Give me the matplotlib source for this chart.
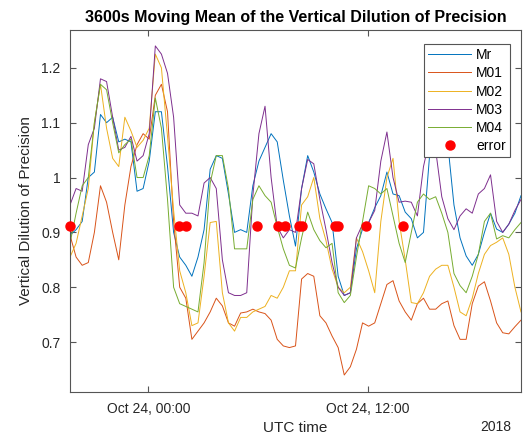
import matplotlib
matplotlib.use("Agg")
import matplotlib.pyplot as plt
import matplotlib.dates as mdates
from matplotlib.ticker import FormatStrFormatter
import pandas as pd

plt.rcParams['font.family'] = ['Liberation Sans', 'DejaVu Sans']

# moving means, one sample every 20 minutes from 2018-10-23 19:43 UTC
t_start = "2018-10-23 19:43"
t_step = "20min"

mr = [0.895, 0.905, 0.92, 1.0, 1.01, 1.115, 1.1, 1.11, 1.065, 1.07, 1.065, 0.975, 0.98, 1.03, 1.12, 1.12, 1.02, 0.9, 0.855,
      0.84, 0.82, 0.855, 0.905, 1.015, 1.04, 1.035, 0.97, 0.9, 0.905, 0.9, 0.985, 1.03, 1.055, 1.08, 1.065, 0.995, 0.93, 0.875,
      0.98, 1.04, 1.01, 0.97, 0.943, 0.918, 0.82, 0.785, 0.79, 0.87, 0.906, 0.918, 0.945, 0.967, 1.01, 0.97, 0.967, 0.937,
      0.925, 0.89, 0.9, 1.04, 1.11, 1.12, 1.06, 0.95, 0.89, 0.857, 0.84, 0.86, 0.9, 0.935, 0.906, 0.9, 0.915, 0.935, 0.967]
m01 = [0.895, 0.855, 0.84, 0.845, 0.9, 0.985, 0.955, 0.9, 0.85, 0.95, 1.02, 1.06, 1.08, 1.07, 1.15, 1.17, 1.12, 0.92, 0.8,
       0.78, 0.705, 0.72, 0.735, 0.755, 0.78, 0.766, 0.735, 0.729, 0.753, 0.755, 0.76, 0.755, 0.752, 0.74, 0.705, 0.693, 0.69, 0.693,
       0.815, 0.825, 0.82, 0.748, 0.735, 0.711, 0.69, 0.64, 0.655, 0.687, 0.735, 0.729, 0.735, 0.77, 0.805, 0.812, 0.775, 0.755,
       0.74, 0.77, 0.78, 0.76, 0.76, 0.77, 0.775, 0.73, 0.705, 0.705, 0.77, 0.802, 0.81, 0.775, 0.735, 0.717, 0.715, 0.728, 0.74]
m02 = [0.855, 0.88, 0.93, 0.98, 1.1, 1.17, 1.09, 1.035, 1.02, 1.11, 1.085, 1.055, 1.068, 1.09, 1.225, 1.2, 1.075, 0.94, 0.83,
       0.79, 0.73, 0.735, 0.82, 0.918, 0.92, 0.79, 0.735, 0.72, 0.745, 0.745, 0.755, 0.76, 0.765, 0.785, 0.78, 0.8, 0.83, 0.83,
       0.95, 0.965, 1.0, 0.925, 0.885, 0.833, 0.8, 0.79, 0.8, 0.89, 0.865, 0.83, 0.79, 0.92, 1.0, 1.035, 0.92, 0.85,
       0.772, 0.77, 0.79, 0.82, 0.833, 0.84, 0.84, 0.8, 0.755, 0.748, 0.78, 0.825, 0.86, 0.876, 0.882, 0.89, 0.86, 0.8, 0.755]
m03 = [0.95, 0.98, 0.975, 1.06, 1.09, 1.18, 1.175, 1.11, 1.05, 1.055, 1.075, 1.03, 1.04, 1.08, 1.24, 1.225, 1.19, 1.11, 0.95,
       0.935, 0.935, 0.93, 0.99, 1.0, 0.98, 0.85, 0.79, 0.785, 0.785, 0.79, 0.967, 1.08, 1.13, 1.0, 0.91, 0.89, 0.905, 0.9,
       0.98, 1.033, 1.025, 0.96, 0.905, 0.845, 0.8, 0.785, 0.79, 0.89, 0.915, 0.918, 0.94, 1.03, 1.083, 1.0, 0.955, 0.957,
       0.955, 0.93, 1.02, 1.07, 1.05, 0.965, 0.925, 0.905, 0.93, 0.943, 0.935, 0.97, 0.98, 1.005, 0.92, 0.9, 0.915, 0.94, 0.96]
m04 = [0.88, 0.935, 0.985, 1.0, 1.1, 1.17, 1.16, 1.1, 1.045, 1.06, 1.07, 1.0, 1.0, 1.04, 1.145, 1.09, 0.96, 0.8, 0.77,
       0.765, 0.76, 0.755, 0.845, 0.99, 1.04, 1.04, 0.98, 0.87, 0.87, 0.87, 0.96, 0.985, 0.967, 0.955, 0.91, 0.87, 0.84, 0.835,
       0.89, 0.937, 0.905, 0.885, 0.872, 0.88, 0.79, 0.772, 0.785, 0.855, 0.92, 0.985, 0.98, 0.97, 0.98, 0.93, 0.88, 0.845,
       0.9, 0.955, 0.97, 0.96, 0.965, 0.935, 0.9, 0.825, 0.803, 0.79, 0.82, 0.86, 0.92, 0.935, 0.888, 0.894, 0.89, 0.905, 0.918]

series_names = ["Mr", "M01", "M02", "M03", "M04"]
series_colors = ["#0072BD", "#D95319", "#EDB120", "#7E2F8E", "#77AC30"]

err_times = ["2018-10-23 19:43", "2018-10-24 01:40", "2018-10-24 02:03", "2018-10-24 05:58",
             "2018-10-24 07:07", "2018-10-24 07:30", "2018-10-24 08:16", "2018-10-24 08:23",
             "2018-10-24 10:12", "2018-10-24 10:22", "2018-10-24 11:54", "2018-10-24 13:56"]
err_vals = [0.912, 0.912, 0.912, 0.912, 0.912, 0.912, 0.912, 0.912, 0.912, 0.912, 0.912, 0.912]

t = pd.date_range(t_start, periods=len(mr), freq=t_step)
df = pd.DataFrame({"Mr": mr, "M01": m01, "M02": m02, "M03": m03, "M04": m04}, index=t)

fig = plt.figure(figsize=(5.28, 4.4), dpi=100)
ax = fig.add_axes([70 / 528, 1 - 392 / 440, 451 / 528, 362 / 440])

for name, col in zip(series_names, series_colors):
    ax.plot(df.index, df[name], color=col, lw=0.7, label=name)
ax.plot(pd.to_datetime(err_times), err_vals, 'o', color='red', ms=6.5, mec='red',
        label='error', clip_on=False, zorder=5)

ax.set_xlim(t[0], t[-1])
ax.set_ylim(0.609, 1.269)
ax.set_yticks([0.7, 0.8, 0.9, 1.0, 1.1, 1.2])
ax.yaxis.set_major_formatter(FormatStrFormatter('%g'))
ax.xaxis.set_major_locator(mdates.HourLocator(byhour=[0, 12]))
ax.xaxis.set_major_formatter(mdates.DateFormatter('%b %d, %H:%M'))

grey = '#262626'
for s in ax.spines.values():
    s.set_color('#555555')
    s.set_linewidth(0.8)
ax.tick_params(direction='in', top=True, right=True, length=4, width=0.8,
               color='#555555', labelcolor=grey, labelsize=10, pad=7)

ax.set_title('3600s Moving Mean of the Vertical Dilution of Precision',
             fontsize=11.5, fontweight='bold', color='black', pad=6)
ax.set_xlabel('UTC time', fontsize=11, color=grey, labelpad=4)
ax.set_ylabel('Vertical Dilution of Precision', fontsize=11, color=grey, labelpad=6)
ax.text(0.979, -0.097, '2018', transform=ax.transAxes, ha='right', va='center',
        fontsize=10, color=grey)

leg = ax.legend(loc='upper right', bbox_to_anchor=(0.9756, 0.9613), borderaxespad=0,
                fontsize=10, fancybox=False, framealpha=1, edgecolor='#555555',
                handlelength=3.1, handletextpad=0.35, labelspacing=0.3, borderpad=0.3)
leg.get_frame().set_linewidth(0.8)

fig.savefig('out.png', dpi=100, facecolor='white')
